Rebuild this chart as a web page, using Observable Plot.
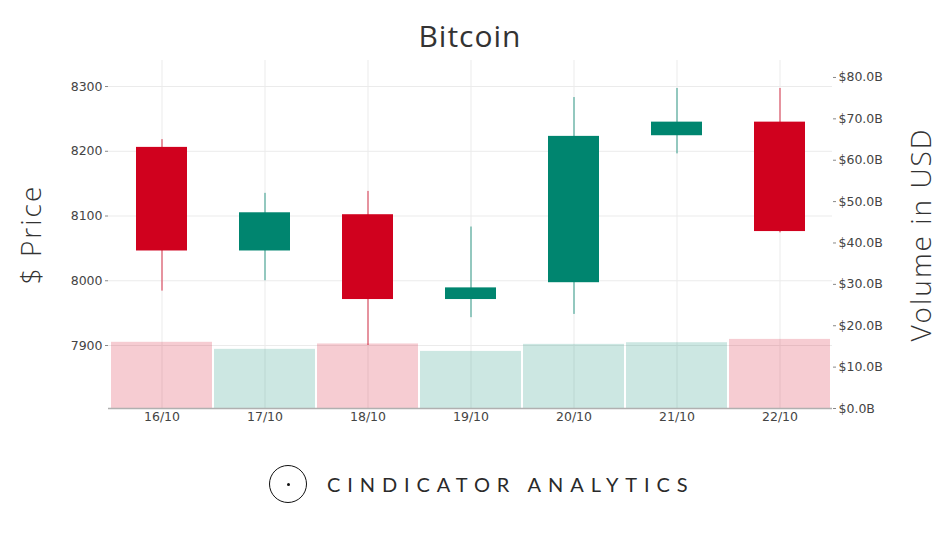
<!DOCTYPE html>
<html>
<head>
<meta charset="utf-8">
<script src="https://cdn.jsdelivr.net/npm/d3@7"></script>
<script src="https://cdn.jsdelivr.net/npm/@observablehq/plot@0.6"></script>
<style>
  html, body { margin: 0; padding: 0; background: #fff; }
  body { width: 945px; height: 541px; position: relative; overflow: hidden; font-family: "Open Sans", sans-serif; }
  #title { position: absolute; top: 15px; left: 0; width: 940px; text-align: center; font-size: 30px; letter-spacing: 1px; color: #333; }
  #chart { position: absolute; top: 50px; left: 0; }
  #brand { position: absolute; top: 464px; left: 269px; height: 40px; display: flex; align-items: center; }
  #brand .ring { width: 38px; height: 38px; border: 1.8px solid #111; border-radius: 50%; position: relative; box-sizing: border-box; }
  #brand .ring::after { content: ""; position: absolute; left: 50%; top: 50%; width: 3px; height: 3px; margin: -1.5px 0 0 -1.5px; background: #111; border-radius: 50%; }
  #brand .name { margin-left: 20px; font-family: Lato, sans-serif; font-weight: 400; font-size: 20px; letter-spacing: 6.9px; color: #2a2a2a; }
</style>
</head>
<body>
<div id="title">Bitcoin</div>
<div id="chart"></div>
<div id="brand"><div class="ring"></div><div class="name">CINDICATOR ANALYTICS</div></div>
<script>
// Daily BTC candles, 16–22 October
const dates  = ["16/10", "17/10", "18/10", "19/10", "20/10", "21/10", "22/10"];
const open   = [8206, 8046, 8102, 7971, 7997, 8224, 8245];
const high   = [8218, 8135, 8138, 8083, 8283, 8297, 8297];
const low    = [7984, 8000, 7900, 7943, 7948, 8196, 8074];
const close  = [8046, 8105, 7971, 7989, 8223, 8245, 8076];
const volume = [16.0, 14.3, 15.6, 13.8, 15.5, 15.9, 16.7]; // billions USD

const priceTicks = [7900, 8000, 8100, 8200, 8300];
const priceTickLabels = ["7900", "8000", "8100", "8200", "8300"];
const volumeTicks = [0, 10, 20, 30, 40, 50, 60, 70, 80];
const volumeTickLabels = ["$0.0B", "$10.0B", "$20.0B", "$30.0B", "$40.0B", "$50.0B", "$60.0B", "$70.0B", "$80.0B"];

const RED = "#d0011e";
const GREEN = "#00856f";

// Price axis range, and the volume range that shares the same vertical extent
const P0 = 7802.7, P1 = 8340.2;
const VTOP = 84.1;
const volToPrice = v => P0 + v * (P1 - P0) / VTOP;

const rows = dates.map((d, i) => ({
  date: d, open: open[i], high: high[i], low: low[i], close: close[i],
  volume: volume[i], up: close[i] >= open[i]
}));
const ups = rows.filter(r => r.up);
const downs = rows.filter(r => !r.up);

const axisTitle = { fontFamily: "Open Sans, sans-serif", fontWeight: 300, fontSize: 28, fill: "#333", rotate: -90, textAnchor: "middle" };

const chart = Plot.plot({
  width: 945,
  height: 390,
  marginTop: 10,
  marginBottom: 32,
  marginLeft: 108,
  marginRight: 113,
  style: { fontFamily: "DejaVu Sans, sans-serif", fontSize: "12.5px", color: "#444", background: "transparent" },
  x: { domain: dates, paddingInner: 0.02, paddingOuter: 0.01 },
  y: { domain: [P0, P1] },
  marks: [
    Plot.gridX(dates, { stroke: "#ebebeb", strokeOpacity: 1 }),
    Plot.gridY(priceTicks, { stroke: "#ebebeb", strokeOpacity: 1 }),
    // volume bars
    Plot.barY(downs, { x: "date", y1: () => P0, y2: d => volToPrice(d.volume), fill: RED, fillOpacity: 0.2 }),
    Plot.barY(ups, { x: "date", y1: () => P0, y2: d => volToPrice(d.volume), fill: GREEN, fillOpacity: 0.2 }),
    Plot.ruleY([P0], { stroke: "#b0b0b0", strokeWidth: 1.5 }),
    // wicks
    Plot.ruleX(downs, { x: "date", y1: "low", y2: "high", stroke: RED, strokeWidth: 1, strokeOpacity: 0.8 }),
    Plot.ruleX(ups, { x: "date", y1: "low", y2: "high", stroke: GREEN, strokeWidth: 1, strokeOpacity: 0.8 }),
    // bodies
    Plot.barY(downs, { x: "date", y1: "open", y2: "close", fill: RED, insetLeft: 25, insetRight: 25 }),
    Plot.barY(ups, { x: "date", y1: "open", y2: "close", fill: GREEN, insetLeft: 25, insetRight: 25 }),
    // axes
    Plot.axisX({ tickSize: 0, tickPadding: 4, label: null }),
    Plot.axisY(priceTicks, {
      anchor: "left", tickSize: 3, tickPadding: 3, stroke: "#888", label: null,
      tickFormat: (d, i) => priceTickLabels[i]
    }),
    Plot.axisY(volumeTicks.map(volToPrice), {
      anchor: "right", tickSize: 3, tickPadding: 3, stroke: "#888", label: null,
      tickFormat: (d, i) => volumeTickLabels[i]
    }),
    Plot.text(["$ Price"], { ...axisTitle, frameAnchor: "left", dx: -76 }),
    Plot.text(["Volume in USD"], { ...axisTitle, frameAnchor: "right", dx: 90 })
  ]
});
// letter spacing on the axis titles
chart.querySelectorAll("text").forEach(t => {
  if (t.textContent === "$ Price" || t.textContent === "Volume in USD") t.setAttribute("letter-spacing", "2");
});
document.getElementById("chart").appendChild(chart);
</script>
</body>
</html>
